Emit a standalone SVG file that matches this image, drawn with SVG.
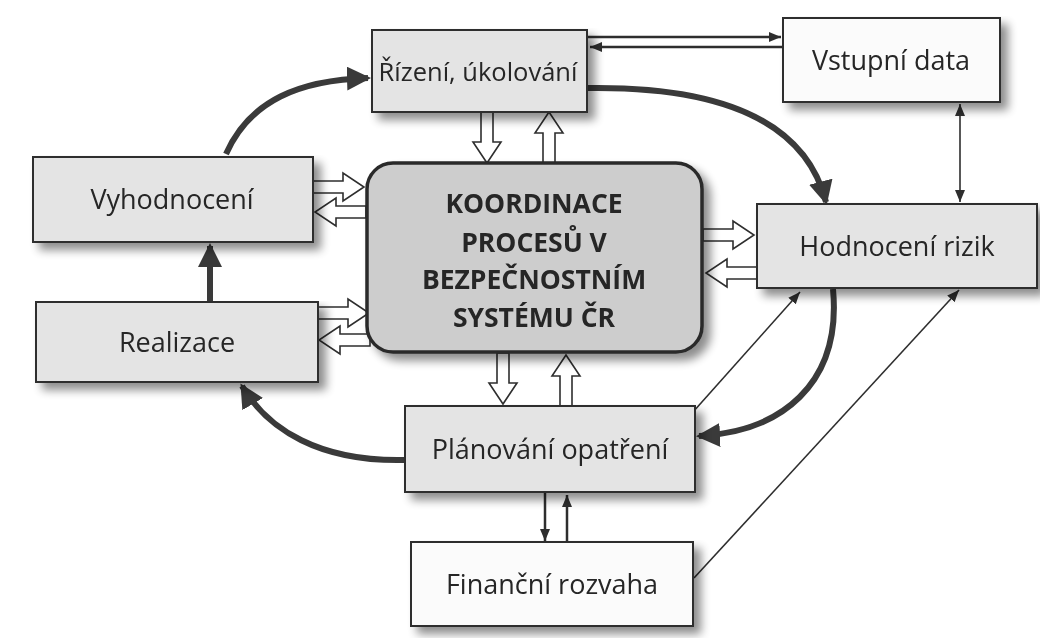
<svg xmlns="http://www.w3.org/2000/svg" width="1040" height="638" viewBox="0 0 1040 638">
<style>
.box{fill:#e4e4e4;stroke:#2e2e2e;stroke-width:2}
.wbox{fill:#fbfbfb;stroke:#2e2e2e;stroke-width:2}
.center{fill:#cdcdcd;stroke:#2a2a2a;stroke-width:3.5}
.lbl{font-family:"Open Sans","Noto Sans",sans-serif;font-size:27px;fill:#262626;text-anchor:middle}
.clbl{font-family:"Open Sans","Noto Sans",sans-serif;font-size:26.5px;font-weight:bold;fill:#262626;text-anchor:middle}
.thick{fill:none;stroke:#3a3a3a;stroke-width:6;marker-end:url(#bigHead)}
.thin{fill:none;stroke:#2e2e2e;stroke-width:2.5;marker-end:url(#smallHead)}
.thinner{fill:none;stroke:#2e2e2e;stroke-width:1.6;marker-end:url(#smallHead)}
.blk{fill:#ffffff;stroke:#2e2e2e;stroke-width:1.6;stroke-linejoin:miter}
</style>
<defs>
<filter id="shadow" x="-10%" y="-10%" width="130%" height="140%">
<feGaussianBlur in="SourceAlpha" stdDeviation="5"/>
<feOffset dx="7" dy="7" result="b"/>
<feComponentTransfer><feFuncA type="linear" slope="0.45"/></feComponentTransfer>
<feMerge><feMergeNode/><feMergeNode in="SourceGraphic"/></feMerge>
</filter>
<marker id="bigHead" markerUnits="userSpaceOnUse" markerWidth="26" markerHeight="26" refX="21" refY="12" orient="auto">
<path d="M0,0 L24,12 L0,24 Z" fill="#3a3a3a"/>
</marker>
<marker id="smallHead" markerUnits="userSpaceOnUse" markerWidth="14" markerHeight="12" refX="12" refY="5" orient="auto-start-reverse">
<path d="M0,0 L12,5 L0,10 Z" fill="#2e2e2e"/>
</marker>
<path id="blockArrow" d="M0,-6 H30 V-14 L51,0 L30,14 V6 H0 Z"/>
</defs>
<rect width="1040" height="638" fill="#ffffff"/>

<g id="connectors">
<!-- thick process cycle -->
<path class="thick" d="M226,154 C250,100 300,80 368,78"/>
<path class="thick" d="M587,88 C720,86 805,120 826,202"/>
<path class="thick" d="M833,289 C842,385 780,432 699,436"/>
<path class="thick" d="M405,460 C320,462 268,430 242,386"/>
<path class="thick" d="M210,303 L210,246"/>
<!-- thin data links -->
<path class="thin" d="M588,37 L781,37"/>
<path class="thin" d="M783,47 L590,47"/>
<path class="thinner" style="marker-start:url(#smallHead)" d="M960,104 L960,202"/>
<path class="thinner" d="M693,412 L800,292"/>
<path class="thinner" d="M694,578 L959,290"/>
<path class="thin" d="M545,493 L545,541"/>
<path class="thin" d="M567,542 L567,495"/>
<!-- block arrows -->
<use href="#blockArrow" class="blk" transform="translate(487,112) rotate(90)"/>
<use href="#blockArrow" class="blk" transform="translate(549,163) rotate(-90)"/>
<use href="#blockArrow" class="blk" transform="translate(313,187)"/>
<use href="#blockArrow" class="blk" transform="translate(366,212) rotate(180)"/>
<use href="#blockArrow" class="blk" transform="translate(318,313)"/>
<use href="#blockArrow" class="blk" transform="translate(370,340) rotate(180)"/>
<use href="#blockArrow" class="blk" transform="translate(703,235)"/>
<use href="#blockArrow" class="blk" transform="translate(757,273) rotate(180)"/>
<use href="#blockArrow" class="blk" transform="translate(503,353) rotate(90)"/>
<use href="#blockArrow" class="blk" transform="translate(566,406) rotate(-90)"/>
</g>

<g id="node-rizeni" filter="url(#shadow)">
<rect class="box" x="372" y="30" width="215" height="82"/>
<text class="lbl" x="478" y="81" style="font-size:25.5px">Řízení, úkolování</text>
</g>
<g id="node-vstupni" filter="url(#shadow)">
<rect class="wbox" x="783" y="18" width="217" height="84"/>
<text class="lbl" x="891" y="70">Vstupní data</text>
</g>
<g id="node-vyhodnoceni" filter="url(#shadow)">
<rect class="box" x="33" y="157" width="280" height="85"/>
<text class="lbl" x="172" y="209">Vyhodnocení</text>
</g>
<g id="node-realizace" filter="url(#shadow)">
<rect class="box" x="36" y="302" width="282" height="80"/>
<text class="lbl" x="177" y="352">Realizace</text>
</g>
<g id="node-koordinace" filter="url(#shadow)">
<rect class="center" x="367" y="163" width="335" height="189" rx="26" ry="26"/>
<text class="clbl" x="534" y="213">KOORDINACE</text>
<text class="clbl" x="534" y="252">PROCESŮ V</text>
<text class="clbl" x="534" y="289">BEZPEČNOSTNÍM</text>
<text class="clbl" x="534" y="327">SYSTÉMU ČR</text>
</g>
<g id="node-hodnoceni" filter="url(#shadow)">
<rect class="box" x="757" y="204" width="280" height="84"/>
<text class="lbl" x="897" y="256">Hodnocení rizik</text>
</g>
<g id="node-planovani" filter="url(#shadow)">
<rect class="box" x="405" y="406" width="290" height="86"/>
<text class="lbl" x="550" y="459">Plánování opatření</text>
</g>
<g id="node-financni" filter="url(#shadow)">
<rect class="wbox" x="411" y="542" width="282" height="84"/>
<text class="lbl" x="552" y="594">Finanční rozvaha</text>
</g>
</svg>
